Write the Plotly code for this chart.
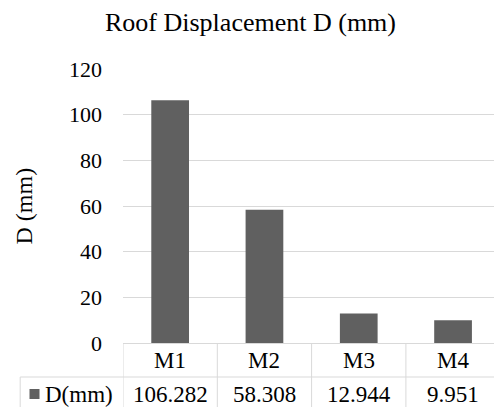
import plotly.graph_objects as go

# Roof displacement per model
models = ["M1", "M2", "M3", "M4"]
displacement = [106.282, 58.308, 12.944, 9.951]
series_name = "D(mm)"
y_ticks = [0, 20, 40, 60, 80, 100, 120]

FONT = "'Liberation Serif', 'Times New Roman', Times, serif"
BAR = "#606060"
GRID = "#d9d9d9"

W, H = 494, 407
L, T, B = 123.4, 69, 64
plot_w = W - L
plot_h = H - T - B
cat_px = 94.2  # pixel width of one category column

def px_x(px):
    return (px - L) / plot_w

def px_y(py):
    return (H - B - py) / plot_h

fig = go.Figure()
fig.add_trace(go.Bar(
    x=list(range(len(models))), y=displacement, width=0.4,
    marker=dict(color=BAR, line=dict(width=0)), name=series_name,
    showlegend=False,
))

row1_y = px_y(360)
row2_y = px_y(394)
sep_y = px_y(377)
bottom_y = px_y(430)

shapes = []
# vertical borders of the data table
for i in range(len(models)):
    shapes.append(dict(type="line", xref="x", yref="paper",
                       x0=i - 0.5, x1=i - 0.5, y0=0, y1=bottom_y,
                       line=dict(color=GRID, width=1)))
# row separator and legend cell border
shapes.append(dict(type="line", xref="paper", yref="paper",
                   x0=px_x(20.7), x1=1.02, y0=sep_y, y1=sep_y,
                   line=dict(color=GRID, width=1)))
shapes.append(dict(type="line", xref="paper", yref="paper",
                   x0=px_x(20.7), x1=px_x(20.7), y0=sep_y, y1=bottom_y,
                   line=dict(color=GRID, width=1)))
# legend key
shapes.append(dict(type="rect", xref="paper", yref="paper",
                   x0=px_x(30), x1=px_x(40), y0=px_y(399), y1=px_y(389),
                   fillcolor=BAR, line=dict(width=0)))

TABLE_SIZE = 23
annotations = []
for i, (m, v) in enumerate(zip(models, displacement)):
    annotations.append(dict(x=i, y=row1_y, xref="x", yref="paper", text=m,
                            showarrow=False, xanchor="center", yanchor="middle",
                            font=dict(family=FONT, size=TABLE_SIZE, color="black")))
    annotations.append(dict(x=i, y=row2_y, xref="x", yref="paper", text=f"{v:.3f}",
                            showarrow=False, xanchor="center", yanchor="middle",
                            font=dict(family=FONT, size=TABLE_SIZE, color="black")))
annotations.append(dict(x=px_x(43), y=row2_y, xref="paper", yref="paper", text=series_name,
                        showarrow=False, xanchor="left", yanchor="middle",
                        font=dict(family=FONT, size=TABLE_SIZE, color="black")))
annotations.append(dict(x=px_x(25), y=px_y(206), xref="paper", yref="paper", text="D (mm)",
                        textangle=-90, showarrow=False, xanchor="center", yanchor="middle",
                        font=dict(family=FONT, size=24, color="black")))

fig.update_layout(
    width=W, height=H,
    margin=dict(l=L, r=0, t=T, b=B, pad=0),
    paper_bgcolor="white", plot_bgcolor="white",
    font=dict(family=FONT),
    title=dict(text="Roof Displacement D (mm)", x=(104 + 397) / 2 / W, xanchor="center",
               y=1 - 21.5 / H, yanchor="middle", yref="container",
               font=dict(family=FONT, size=26, color="black")),
    xaxis=dict(range=[-0.5, -0.5 + plot_w / cat_px], showticklabels=False,
               showgrid=False, zeroline=False, showline=False, fixedrange=True),
    yaxis=dict(range=[0, 120], tickvals=y_ticks, showgrid=True, gridcolor=GRID,
               gridwidth=1, zeroline=True, zerolinecolor=GRID, zerolinewidth=1,
               showline=False, ticks="", ticklabelstandoff=20,
               tickfont=dict(family=FONT, size=22, color="black"), fixedrange=True),
    shapes=shapes, annotations=annotations, bargap=0.6,
)

fig.write_html("out.html")
